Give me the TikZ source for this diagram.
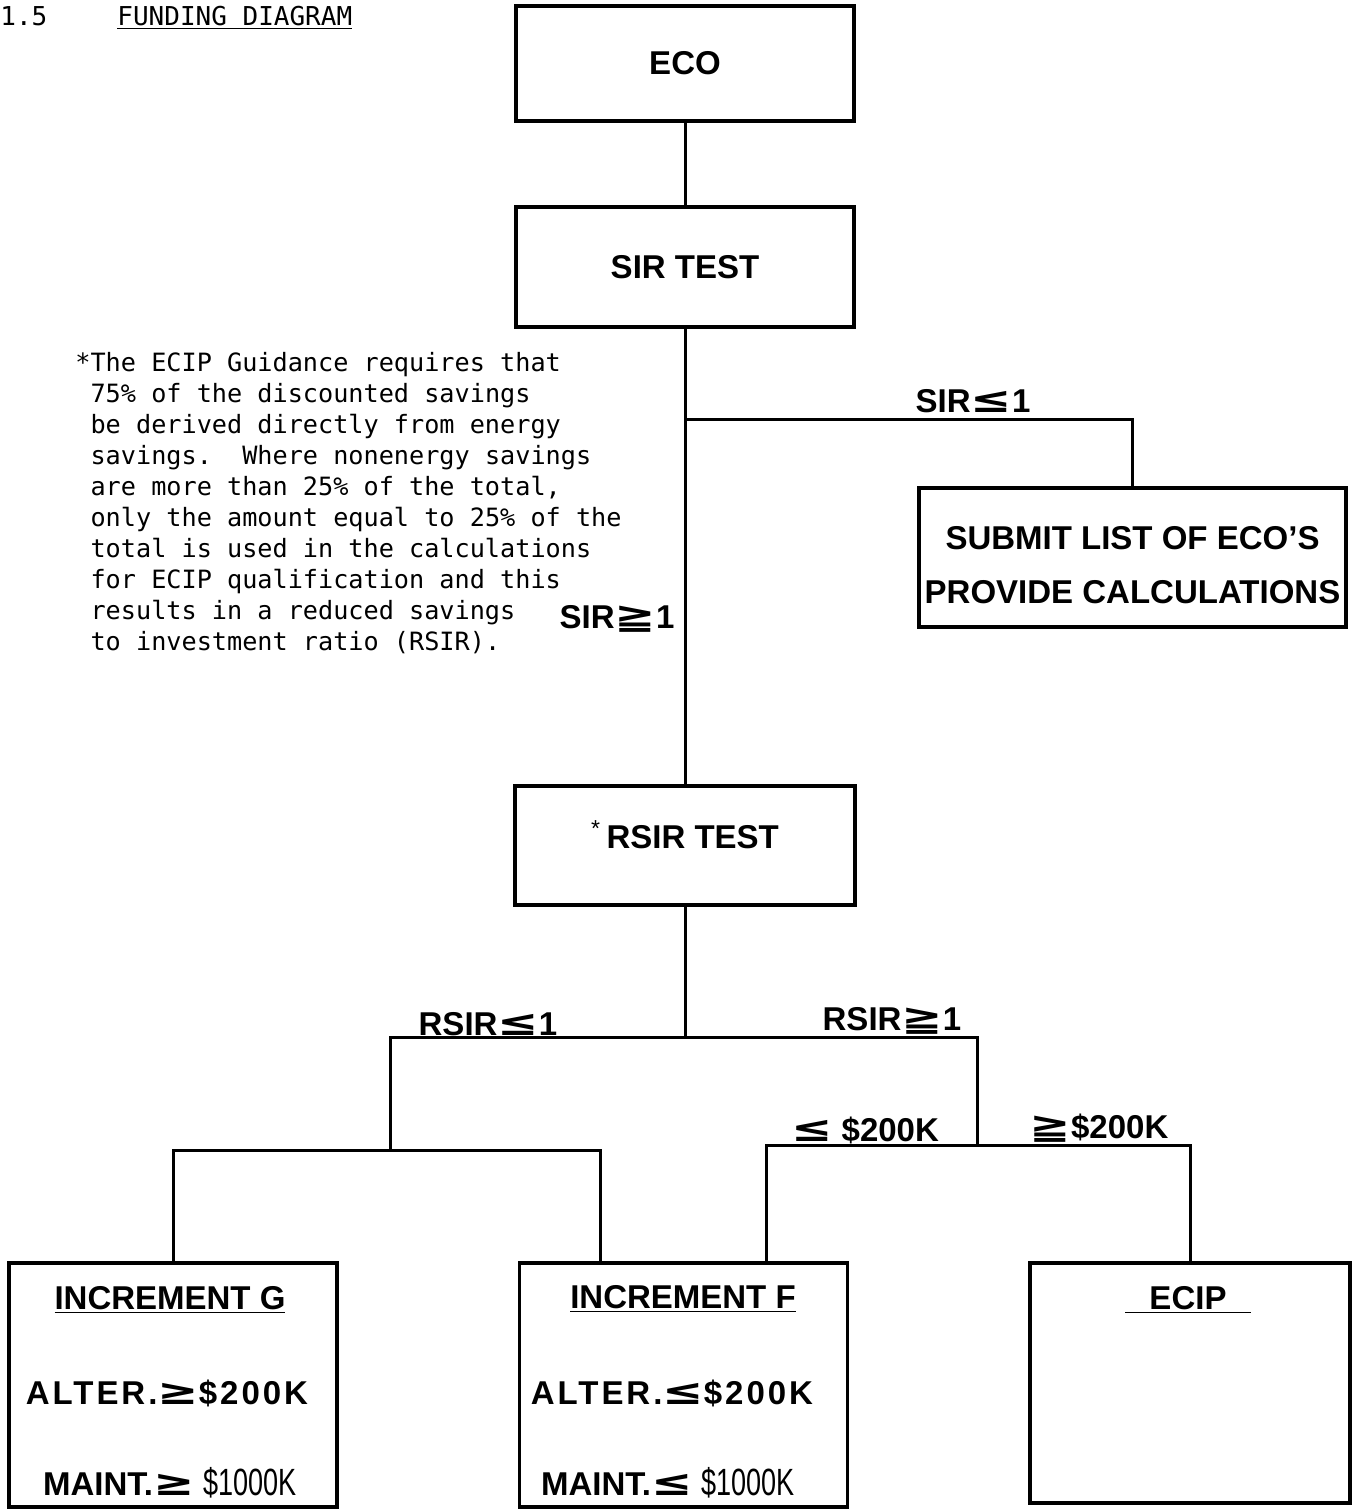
\documentclass[tikz,border=0pt]{standalone}
\usepackage{fontspec}
\setmainfont{Liberation Sans}
\newfontfamily\notefont{DejaVu Sans Mono}
\newfontfamily\relfont{DejaVu Sans}
\usetikzlibrary{calc}

\newcommand{\lessSign}{\scalebox{1.5}[1.1]{\relfont ≤}}
\newcommand{\moreSign}{\scalebox{1.5}[1.1]{\relfont ≥}}
\newcommand{\moreEqSign}{\scalebox{1.5}[1.1]{\relfont ≧}}
\newcommand{\thinAmount}[1]{\scalebox{0.82}[1.15]{\mdseries #1}}

\begin{document}
\begin{tikzpicture}[
  x=0.5pt, y=-0.5pt,
  box/.style={draw, line width=1.6pt, inner sep=0pt},
  flow/.style={line width=1.5pt},
  heading/.style={font=\notefont\fontsize{13}{16}\selectfont, inner sep=0pt, anchor=base west},
  note/.style={font=\notefont\fontsize{12.6}{15.5}\selectfont, align=left, inner sep=0pt, anchor=north west},
  spaced/.style={font=\bfseries\fontsize{16.5}{20}\selectfont\addfontfeature{LetterSpace=9}},
  every node/.style={align=center, font=\bfseries\fontsize{16.5}{20}\selectfont}]

\useasboundingbox (0,0) rectangle (1352,1512);

% Title and footnote
\node[heading] (sectionNumber) at (0,25) {1.5};
\node[heading] (title) at (117,25) {\underline{FUNDING DIAGRAM}};
\node[note] (footNote) at (75,352) {*The ECIP Guidance requires that\\
\ 75\% of the discounted savings\\
\ be derived directly from energy\\
\ savings.\ \ Where nonenergy savings\\
\ are more than 25\% of the total,\\
\ only the amount equal to 25\% of the\\
\ total is used in the calculations\\
\ for ECIP qualification and this\\
\ results in a reduced savings\\
\ to investment ratio (RSIR).};

% Position the boxes
\node[box, minimum width=169pt, minimum height=57.5pt] (eco) at (685,63.5) {ECO};
\node[box, minimum width=169pt, minimum height=60pt] (sirTest) at (685,267) {SIR TEST};
\node[box, minimum width=213.5pt, minimum height=69.5pt] (submitList) at (1132.5,557.5)
  {\rule{0pt}{19pt}SUBMIT LIST OF ECO'S\\[7pt]PROVIDE CALCULATIONS};
\node[box, minimum width=170pt, minimum height=59.5pt, text depth=11pt] (rsirTest) at (685,845.5)
  {\textsuperscript{\mdseries *}\,RSIR TEST};
\node[box, minimum width=164pt, minimum height=122pt] (incG) at (173,1385) {};
\node[box, minimum width=164pt, minimum height=122pt] (incF) at (683.5,1385) {};
\node[box, minimum width=160pt, minimum height=120pt] (ecip) at (1190,1383) {};

% Box contents
\node (incGTitle) at (170,1300) {\underline{INCREMENT G}};
\node[spaced] (incGAlter) at (167,1393) {ALTER.\moreSign\$200K};
\node (incGMaint) at (170,1483) {MAINT.\moreSign\ \thinAmount{\$1000K}};
\node (incFTitle) at (683,1299) {\underline{INCREMENT F}};
\node[spaced] (incFAlter) at (672,1393) {ALTER.\lessSign\$200K};
\node (incFMaint) at (668,1483) {MAINT.\lessSign\ \thinAmount{\$1000K}};
\node (ecipTitle) at (1188,1300) {\underline{\hspace{12pt}ECIP\hspace{12pt}}};

% Branch points
\coordinate (sirSplit) at (685,419);
\coordinate (rsirSplit) at (685,1037);
\coordinate (lowFork) at (390,1150);
\coordinate (highFork) at (977,1145);

% Draw the lines between the boxes
\draw[flow] (eco) -- (sirTest);
\draw[flow] (sirTest) -- (rsirTest);
\draw[flow] (sirSplit) -| (submitList);
\draw[flow] (rsirTest) -- (rsirSplit);
\draw[flow] (lowFork) |- (rsirSplit) -| (highFork);
\draw[flow] (incG) |- (lowFork) -| ($(incF.north west)!0.25!(incF.north east)$);
\draw[flow] ($(incF.north west)!0.75!(incF.north east)$) |- (highFork) -| (ecip);

% Label the branches
\node (sirBelow) at (973,401) {SIR\lessSign 1};
\node (sirAbove) at (617,619) {SIR\moreEqSign 1};
\node (rsirBelow) at (488,1024) {RSIR\lessSign 1};
\node (rsirAbove) at (892,1021) {RSIR\moreEqSign 1};
\node (costBelow) at (865,1130) {\lessSign\ \$200K};
\node (costAbove) at (1099,1128) {\moreEqSign\$200K};

\end{tikzpicture}
\end{document}
